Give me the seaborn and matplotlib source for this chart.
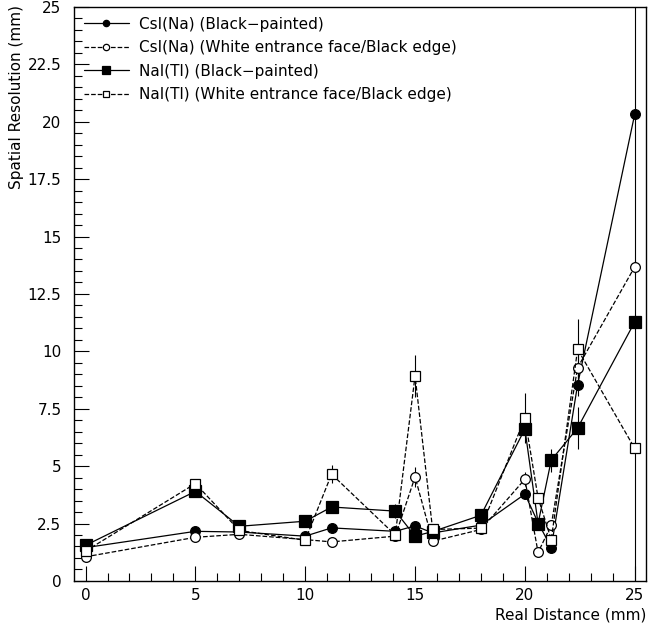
import numpy as np
import pandas as pd
import matplotlib
matplotlib.use("Agg")
import matplotlib.pyplot as plt
import seaborn as sns
from matplotlib.ticker import MultipleLocator

sns.set_theme(style="ticks")
plt.rcParams['font.family'] = ['DejaVu Sans']
plt.rcParams['text.color'] = 'black'
plt.rcParams['axes.labelcolor'] = 'black'
plt.rcParams['xtick.color'] = 'black'
plt.rcParams['ytick.color'] = 'black'

distance = [0, 5, 7, 10, 11.2, 14.1, 15, 15.8, 18, 20, 20.6, 21.2, 22.4, 25]

csi_black = [1.45, 2.16, 2.13, 1.95, 2.31, 2.16, 2.40, 2.09, 2.43, 3.78, 2.54, 1.45, 8.55, 20.33]
csi_black_err = [0.1, 0.1, 0.1, 0.1, 0.1, 0.1, 0.1, 0.1, 0.1, 0.2, 0.2, 0.2, 0.5, 26.0]

csi_white = [1.05, 1.90, 2.03, 1.80, 1.70, 1.95, 4.53, 1.73, 2.24, 4.43, 1.24, 2.43, 9.29, 13.68]
csi_white_err = [0.1, 0.1, 0.1, 0.1, 0.1, 0.1, 0.45, 0.1, 0.1, 0.3, 0.2, 0.2, 0.6, 0.3]

nai_black = [1.55, 3.90, 2.38, 2.60, 3.22, 3.04, 1.95, 2.15, 2.86, 6.62, 2.50, 5.26, 6.66, 11.28]
nai_black_err = [0.1, 0.1, 0.1, 0.1, 0.1, 0.3, 0.1, 0.1, 0.1, 0.3, 0.2, 0.5, 0.9, 0.3]

nai_white = [1.30, 4.24, 2.20, 1.77, 4.65, 2.00, 8.93, 2.24, 2.30, 7.10, 3.62, 1.80, 10.09, 5.77]
nai_white_err = [0.1, 0.1, 0.1, 0.1, 0.4, 0.1, 0.9, 0.1, 0.1, 1.1, 0.2, 0.2, 1.3, 0.2]

labels = ["CsI(Na) (Black\u2212painted)",
          "CsI(Na) (White entrance face/Black edge)",
          "NaI(Tl) (Black\u2212painted)",
          "NaI(Tl) (White entrance face/Black edge)"]
series = [csi_black, csi_white, nai_black, nai_white]
errors = [csi_black_err, csi_white_err, nai_black_err, nai_white_err]
markers = ["o", "o", "s", "s"]
fills = ["black", "white", "black", "white"]
dashes = ["-", "--", "-", "--"]
msizes = [7, 7, 8, 7.5]

fig = plt.figure(figsize=(6.54, 6.26), dpi=100)
ax = fig.add_axes([0.113, 0.072, 0.875, 0.917])

for lab, y, e, m, f, ls, ms in zip(labels, series, errors, markers, fills, dashes, msizes):
    df = pd.DataFrame({"x": distance, "y": y})
    ax.errorbar(distance, y, yerr=e, fmt="none", ecolor="black", elinewidth=0.8, capsize=0, zorder=1)
    sns.lineplot(data=df, x="x", y="y", ax=ax, color="black", linewidth=0.9,
                 linestyle=ls, marker=m, markersize=ms, markerfacecolor=f,
                 markeredgecolor="black", markeredgewidth=0.9, label=lab,
                 sort=False, zorder=3)

ax.set_xlim(-0.53, 25.52)
ax.set_ylim(0, 25)
ax.xaxis.set_major_locator(MultipleLocator(5))
ax.xaxis.set_minor_locator(MultipleLocator(1))
ax.yaxis.set_major_locator(MultipleLocator(2.5))
ax.yaxis.set_minor_locator(MultipleLocator(0.5))
ax.set_xticks([0, 5, 10, 15, 20, 25])
ax.set_xticklabels(["0", "5", "10", "15", "20", "25"])
ax.set_yticks([0, 2.5, 5, 7.5, 10, 12.5, 15, 17.5, 20, 22.5, 25])
ax.set_yticklabels(["0", "2.5", "5", "7.5", "10", "12.5", "15", "17.5", "20", "22.5", "25"])
ax.tick_params(axis="both", which="major", direction="in", length=11, width=0.8,
               labelsize=11, colors="black", top=False, right=False)
ax.tick_params(axis="x", which="major", pad=5)
ax.tick_params(axis="y", which="major", pad=9)
ax.tick_params(axis="both", which="minor", direction="in", length=6, width=0.8,
               top=False, right=False)
for s in ax.spines.values():
    s.set_linewidth(1.0)
    s.set_color("black")

ax.set_xlabel("Real Distance (mm)", fontsize=11, loc="right", color="black")
ax.set_ylabel("Spatial Resolution (mm)", fontsize=11, loc="top", color="black")
ax.xaxis.set_label_coords(1.0, -0.047)
ax.yaxis.set_label_coords(-0.087, 1.003)

leg = ax.legend(loc="upper left", frameon=False, fontsize=11, handlelength=2.95,
                borderaxespad=0.0, borderpad=0.65, labelspacing=0.55,
                handletextpad=0.65, markerscale=0.65, labelcolor="black")

fig.savefig("out.png", dpi=100, facecolor="white")
